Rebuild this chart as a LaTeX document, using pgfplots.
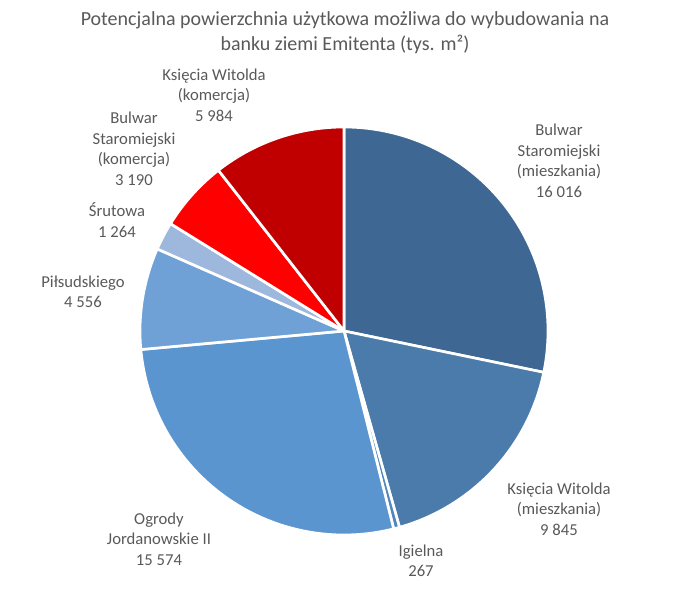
\documentclass[border=0pt]{standalone}
\usepackage{pgfplots}
\pgfplotsset{compat=1.18}
\usepackage{fontspec}
\setmainfont{Carlito}

\definecolor{txt}{HTML}{595959}
\definecolor{cA}{HTML}{3E6893}
\definecolor{cB}{HTML}{4A7BAA}
\definecolor{cC}{HTML}{5087BD}
\definecolor{cD}{HTML}{5A95CF}
\definecolor{cE}{HTML}{6FA1D6}
\definecolor{cF}{HTML}{9DB8DC}
\definecolor{cG}{HTML}{FF0000}
\definecolor{cH}{HTML}{C00000}

\tikzset{lbl/.style={text=txt, align=center, inner sep=0pt,
  font=\fontsize{12.5}{15.4}\selectfont}}

% slice values (tys. m2, divided by 1000), clockwise from the top
\def\total{56.696}
\pgfmathsetmacro\aA{90}
\pgfmathsetmacro\aB{\aA-(16.016/\total)*360}
\pgfmathsetmacro\aC{\aB-(9.845/\total)*360}
\pgfmathsetmacro\aD{\aC-(0.267/\total)*360}
\pgfmathsetmacro\aE{\aD-(15.574/\total)*360}
\pgfmathsetmacro\aF{\aE-(4.556/\total)*360}
\pgfmathsetmacro\aG{\aF-(1.264/\total)*360}
\pgfmathsetmacro\aH{\aG-(3.190/\total)*360}
\pgfmathsetmacro\aI{\aH-(5.984/\total)*360}

\newcommand{\slice}[3]{%
  \addplot[fill=#1, draw=white, line width=2pt, line join=round,
    domain=#3:#2, samples=80]
    ({344+204*cos(x)},{261+204*sin(x)}) -- (axis cs:344,261) -- cycle;}

\begin{document}
\begin{tikzpicture}
\begin{axis}[
    scale only axis,
    width=515.25pt, height=444pt,
    xmin=0, xmax=687, ymin=0, ymax=592,
    hide axis, clip=false,
]
\path (axis cs:0,0) rectangle (axis cs:687,592);

\slice{cA}{\aA}{\aB}
\slice{cB}{\aB}{\aC}
\slice{cC}{\aC}{\aD}
\slice{cD}{\aD}{\aE}
\slice{cE}{\aE}{\aF}
\slice{cF}{\aF}{\aG}
\slice{cG}{\aG}{\aH}
\slice{cH}{\aH}{\aI}

\node[lbl, font=\fontsize{15}{18.75}\selectfont] at (axis cs:345,559.5)
  {Potencjalna powierzchnia użytkowa możliwa do wybudowania na\\banku ziemi Emitenta (tys. m²)};

\node[lbl] at (axis cs:559,431) {Bulwar\\Staromiejski\\(mieszkania)\\16~016};
\node[lbl] at (axis cs:559,83) {Księcia Witolda\\(mieszkania)\\9~845};
\node[lbl] at (axis cs:421,31) {Igielna\\267};
\node[lbl] at (axis cs:159,53) {Ogrody\\Jordanowskie II\\15~574};
\node[lbl] at (axis cs:83,300) {Piłsudskiego\\4~556};
\node[lbl] at (axis cs:117,372) {Śrutowa\\1~264};
\node[lbl] at (axis cs:134,443) {Bulwar\\Staromiejski\\(komercja)\\3~190};
\node[lbl] at (axis cs:214,497) {Księcia Witolda\\(komercja)\\5~984};
\end{axis}
\end{tikzpicture}
\end{document}
